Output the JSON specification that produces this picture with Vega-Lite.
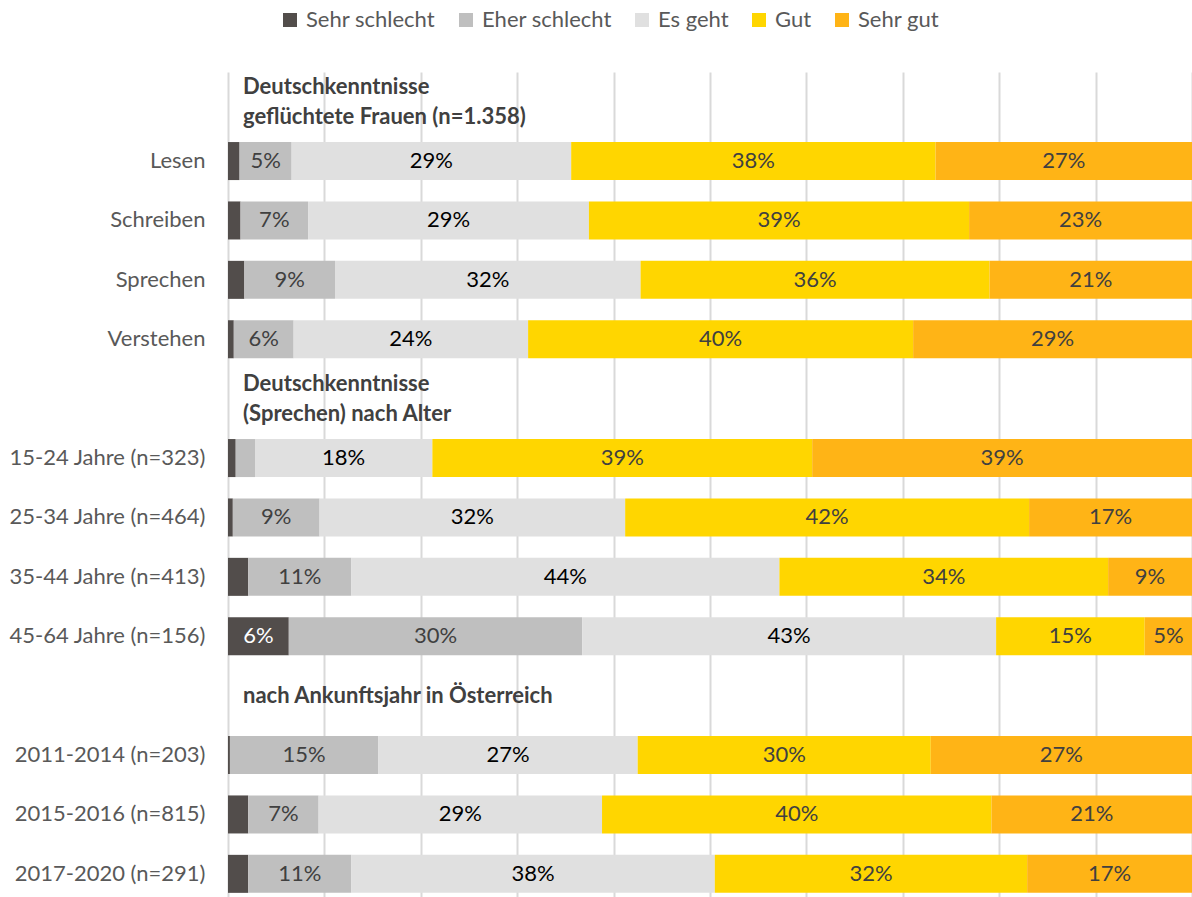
{
  "$schema": "https://vega.github.io/schema/vega-lite/v6.json",
  "autosize": {"type": "none"},
  "padding": {"left": 228, "top": 72, "right": 0, "bottom": 0},
  "width": 964,
  "height": 825,
  "config": {"font": "Lato", "view": {"stroke": null}},
  "datasets": {
    "bars": [
      {"row": "Lesen", "Sehr schlecht": 1.2, "Eher schlecht": 5.4, "Es geht": 29.0, "Gut": 37.8, "Sehr gut": 26.6},
      {"row": "Schreiben", "Sehr schlecht": 1.3, "Eher schlecht": 7.0, "Es geht": 29.1, "Gut": 39.4, "Sehr gut": 23.1},
      {"row": "Sprechen", "Sehr schlecht": 1.7, "Eher schlecht": 9.4, "Es geht": 31.7, "Gut": 36.2, "Sehr gut": 21.0},
      {"row": "Verstehen", "Sehr schlecht": 0.6, "Eher schlecht": 6.2, "Es geht": 24.3, "Gut": 39.9, "Sehr gut": 28.9},
      {"row": "15-24 Jahre (n=323)", "Sehr schlecht": 0.8, "Eher schlecht": 2.0, "Es geht": 18.4, "Gut": 39.4, "Sehr gut": 39.4},
      {"row": "25-34 Jahre (n=464)", "Sehr schlecht": 0.5, "Eher schlecht": 9.0, "Es geht": 31.7, "Gut": 41.9, "Sehr gut": 16.9},
      {"row": "35-44 Jahre (n=413)", "Sehr schlecht": 2.1, "Eher schlecht": 10.7, "Es geht": 44.4, "Gut": 34.1, "Sehr gut": 8.7},
      {"row": "45-64 Jahre (n=156)", "Sehr schlecht": 6.3, "Eher schlecht": 30.4, "Es geht": 42.9, "Gut": 15.4, "Sehr gut": 4.9},
      {"row": "2011-2014 (n=203)", "Sehr schlecht": 0.2, "Eher schlecht": 15.4, "Es geht": 26.9, "Gut": 30.4, "Sehr gut": 27.1},
      {"row": "2015-2016 (n=815)", "Sehr schlecht": 2.1, "Eher schlecht": 7.3, "Es geht": 29.4, "Gut": 40.4, "Sehr gut": 20.8},
      {"row": "2017-2020 (n=291)", "Sehr schlecht": 2.1, "Eher schlecht": 10.7, "Es geht": 37.7, "Gut": 32.4, "Sehr gut": 17.1}
    ],
    "heads": [
      {"row": "_h1", "lines": 2, "text": "Deutschkenntnisse\ngeflüchtete Frauen (n=1.358)"},
      {"row": "_h2", "lines": 2, "text": "Deutschkenntnisse\n(Sprechen) nach Alter"},
      {"row": "_h3", "lines": 1, "text": "nach Ankunftsjahr in Österreich"}
    ]
  },
  "layer": [
    {
      "data": {"name": "bars"},
      "transform": [
        {"fold": ["Sehr schlecht", "Eher schlecht", "Es geht", "Gut", "Sehr gut"]},
        {"calculate": "indexof(['Sehr schlecht','Eher schlecht','Es geht','Gut','Sehr gut'], datum.key)", "as": "ord"},
        {"stack": "value", "groupby": ["row"], "sort": [{"field": "ord", "order": "ascending"}], "offset": "normalize", "as": ["x0", "x1"]}
      ],
      "mark": {"type": "bar"},
      "encoding": {
        "y": {
          "field": "row", "type": "nominal", "sort": null,
          "scale": {
            "domain": ["_h1", "Lesen", "Schreiben", "Sprechen", "Verstehen", "_h2", "15-24 Jahre (n=323)", "25-34 Jahre (n=464)", "35-44 Jahre (n=413)", "45-64 Jahre (n=156)", "_h3", "2011-2014 (n=203)", "2015-2016 (n=815)", "2017-2020 (n=291)"],
            "paddingInner": 0.36, "paddingOuter": 0.1245, "align": 0.72
          },
          "axis": {
            "title": null, "domain": false, "ticks": false, "tickSize": 0, "labelPadding": 23, "labelLimit": 400,
            "labelFontSize": 22, "labelColor": "#595959", "labelFont": "Lato",
            "labelExpr": "indexof(datum.label,'_h')==0 ? '' : datum.label"
          }
        },
        "x": {
          "field": "x0", "type": "quantitative", "scale": {"domain": [0, 1]},
          "axis": {"title": null, "values": [0, 0.1, 0.2, 0.3, 0.4, 0.5, 0.6, 0.7, 0.8, 0.9, 1], "labels": false, "ticks": false, "domain": false, "grid": true, "gridColor": "#D9D9D9", "gridWidth": 2}
        },
        "x2": {"field": "x1"},
        "color": {
          "field": "key", "type": "nominal",
          "scale": {"domain": ["Sehr schlecht", "Eher schlecht", "Es geht", "Gut", "Sehr gut"], "range": ["#524D4B", "#BFBFBF", "#E0E0E0", "#FFD600", "#FFB416"]},
          "legend": {
            "orient": "none", "legendX": 51, "legendY": -63, "direction": "horizontal", "title": null,
            "symbolType": "square", "symbolSize": 196, "symbolStrokeWidth": 0,
            "labelFontSize": 22, "labelColor": "#595959", "labelFont": "Lato", "labelOffset": 5,
            "columnPadding": 19, "padding": 0
          }
        }
      }
    },
    {
      "data": {"name": "bars"},
      "transform": [
        {"fold": ["Sehr schlecht", "Eher schlecht", "Es geht", "Gut", "Sehr gut"]},
        {"calculate": "indexof(['Sehr schlecht','Eher schlecht','Es geht','Gut','Sehr gut'], datum.key)", "as": "ord"},
        {"stack": "value", "groupby": ["row"], "sort": [{"field": "ord", "order": "ascending"}], "offset": "normalize", "as": ["x0", "x1"]},
        {"filter": "datum.value >= 3"},
        {"calculate": "(datum.x0 + datum.x1) / 2", "as": "xm"},
        {"calculate": "format(datum.value, '.0f') + '%'", "as": "lbl"}
      ],
      "mark": {"type": "text", "fontSize": 22, "align": "center", "baseline": "middle"},
      "encoding": {
        "y": {"field": "row", "type": "nominal", "sort": null},
        "x": {"field": "xm", "type": "quantitative"},
        "text": {"field": "lbl"},
        "color": {
          "condition": [
            {"test": "datum.key === 'Sehr schlecht'", "value": "#FFFFFF"},
            {"test": "datum.key === 'Es geht'", "value": "#000000"}
          ],
          "value": "#404040"
        }
      }
    },
    {
      "data": {"name": "heads"},
      "transform": [{"filter": "datum.lines == 2"}],
      "mark": {"type": "text", "fontSize": 22, "fontWeight": "bold", "align": "left", "baseline": "middle", "dx": 15, "dy": -15, "lineBreak": "\n", "lineHeight": 30, "color": "#404040"},
      "encoding": {
        "y": {"field": "row", "type": "nominal", "sort": null},
        "x": {"datum": 0},
        "text": {"field": "text"}
      }
    },
    {
      "data": {"name": "heads"},
      "transform": [{"filter": "datum.lines == 1"}],
      "mark": {"type": "text", "fontSize": 22, "fontWeight": "bold", "align": "left", "baseline": "middle", "dx": 15, "color": "#404040"},
      "encoding": {
        "y": {"field": "row", "type": "nominal", "sort": null},
        "x": {"datum": 0},
        "text": {"field": "text"}
      }
    }
  ]
}
